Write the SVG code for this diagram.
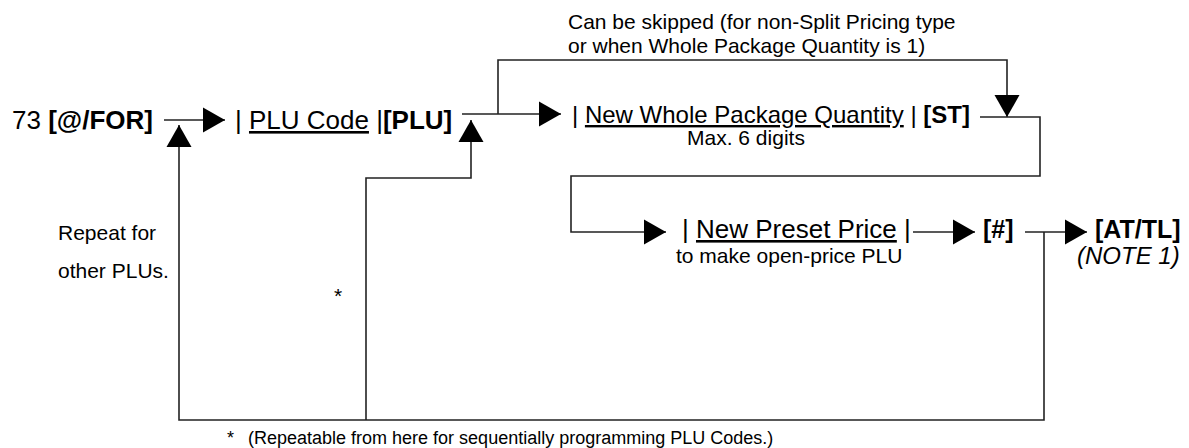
<svg xmlns="http://www.w3.org/2000/svg" width="1189" height="448" viewBox="0 0 1189 448">
<style>
text{font-family:"Liberation Sans",Arial,sans-serif;fill:#000}
.main{font-size:26px}
.r2{font-size:24px}
.sm{font-size:21px}
.b{font-weight:bold}
.u{text-decoration:underline}
.it{font-style:italic}
.ln{fill:none;stroke:#222;stroke-width:1.6}
</style>
<defs>
<marker id="ah" markerUnits="userSpaceOnUse" markerWidth="22" markerHeight="26" refX="22" refY="12.5" orient="auto" viewBox="0 0 22 25">
<path d="M0,0 L22,12.5 L0,25 z" fill="#000"/>
</marker>
</defs>
<rect width="1189" height="448" fill="#fff"/>
<g id="connectors">
<line class="ln" x1="164" y1="120" x2="225" y2="120" marker-end="url(#ah)"/>
<polyline class="ln" points="1044,232 1044,420 179,420 179,125" marker-end="url(#ah)"/>
<polyline class="ln" points="366,420 366,178 471,178 471,120" marker-end="url(#ah)"/>
<line class="ln" x1="462" y1="114" x2="561" y2="114" marker-end="url(#ah)"/>
<polyline class="ln" points="498,114 498,60 1007,60 1007,117" marker-end="url(#ah)"/>
<polyline class="ln" points="980,117 1040,117 1040,176 571,176 571,232 666,232" marker-end="url(#ah)"/>
<line class="ln" x1="913" y1="232" x2="975" y2="232" marker-end="url(#ah)"/>
<line class="ln" x1="1025" y1="232" x2="1087" y2="232" marker-end="url(#ah)"/>
</g>
<g id="start"><text class="main" x="12" y="129">73 <tspan class="b">[@/FOR]</tspan></text></g>
<g id="plu-code"><text class="main" x="235" y="129">| <tspan class="u">PLU Code</tspan> |<tspan class="b">[PLU]</tspan></text></g>
<g id="skip-note"><text class="sm" x="568" y="29">Can be skipped (for non-Split Pricing type</text><text class="sm" x="568" y="53">or when Whole Package Quantity is 1)</text></g>
<g id="whole-qty"><text class="r2" x="572" y="123">| <tspan class="u">New Whole Package Quantity</tspan> | <tspan class="b">[ST]</tspan></text><text class="sm" x="687" y="145">Max. 6 digits</text></g>
<g id="preset-price"><text class="main" x="682" y="238">| <tspan class="u">New Preset Price</tspan> |</text><text class="sm" x="676" y="263">to make open-price PLU</text></g>
<g id="hash"><text class="b" style="font-size:25px" x="983" y="238">[#]</text></g>
<g id="attl"><text class="b" style="font-size:25px" x="1095" y="238">[AT/TL]</text><text class="it" style="font-size:24px" x="1077" y="264">(NOTE 1)</text></g>
<g id="repeat-note"><text class="sm" x="58" y="240">Repeat for</text><text class="sm" x="58" y="278">other PLUs.</text></g>
<g id="star"><text class="sm" x="334" y="303">*</text></g>
<g id="footnote"><text style="font-size:18px" x="227" y="444">*<tspan x="248">(Repeatable from here for sequentially programming PLU Codes.)</tspan></text></g>
</svg>
